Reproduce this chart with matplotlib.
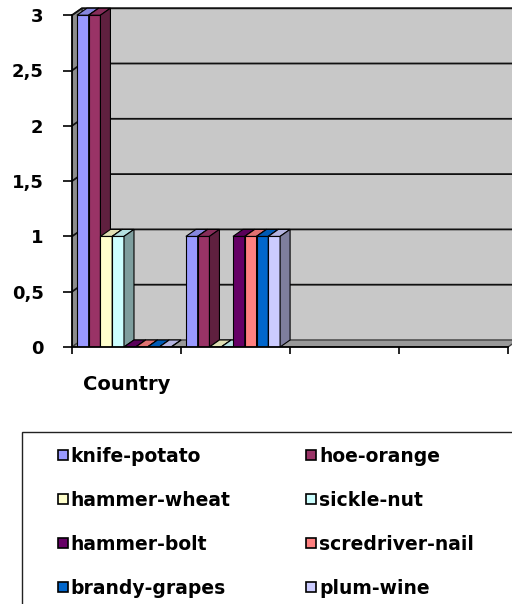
import numpy as np
import matplotlib
matplotlib.use("Agg")
from matplotlib import pyplot as plt
from matplotlib import transforms as mtransforms
from matplotlib.patches import Polygon, Rectangle
from matplotlib.colors import to_rgb

categories = ["Country", "", "", ""]
series_names = ["knife-potato", "hoe-orange", "hammer-wheat", "sickle-nut",
                "hammer-bolt", "scredriver-nail", "brandy-grapes", "plum-wine"]
knife_potato = [3, 1, np.nan, np.nan]
hoe_orange = [3, 1, np.nan, np.nan]
hammer_wheat = [1, 0, np.nan, np.nan]
sickle_nut = [1, 0, np.nan, np.nan]
hammer_bolt = [0, 1, np.nan, np.nan]
scredriver_nail = [0, 1, np.nan, np.nan]
brandy_grapes = [0, 1, np.nan, np.nan]
plum_wine = [0, 1, np.nan, np.nan]
series_values = [knife_potato, hoe_orange, hammer_wheat, sickle_nut,
                 hammer_bolt, scredriver_nail, brandy_grapes, plum_wine]
series_colors = ["#9999ff", "#993366", "#ffffcc", "#ccffff",
                 "#660066", "#ff8080", "#0066cc", "#ccccff"]
y_ticks = [0, 0.5, 1, 1.5, 2, 2.5, 3]
y_tick_labels = ["0", "0,5", "1", "1,5", "2", "2,5", "3"]

plt.rcParams["font.family"] = "DejaVu Sans"
plt.rcParams["font.weight"] = "bold"


def shade(color, f):
    return tuple(c * f for c in to_rgb(color))


W, H = 512, 604
fig = plt.figure(figsize=(W / 100, H / 100), dpi=100)
# pixel coordinates, origin top-left
px = mtransforms.Affine2D().scale(1 / W, -1 / H).translate(0, 1) + fig.transFigure

cat_px, unit_px = 109, 110.6
ax = fig.add_axes([72 / W, 1 - 347 / H, 440 / W, 347 / H])
ax.set_xlim(0, 440 / cat_px)
ax.set_ylim(0, 347 / unit_px)
ax.patch.set_visible(False)

n_cat = len(categories)
ymax = y_ticks[-1]
dx, dy = 10 / cat_px, 7 / unit_px

# back wall, side wall and floor of the 3d box
ax.add_patch(Polygon([(dx, dy), (n_cat + dx, dy), (n_cat + dx, ymax + dy), (dx, ymax + dy)],
                     closed=True, fc="#c8c8c8", ec="#555555", lw=1, zorder=0.5))
ax.add_patch(Polygon([(0, 0), (dx, dy), (dx, ymax + dy), (0, ymax)],
                     closed=True, fc="#8c8c8c", ec="#333333", lw=1, zorder=0.6))
ax.add_patch(Polygon([(0, 0), (n_cat, 0), (n_cat + dx, dy), (dx, dy)],
                     closed=True, fc="#999999", ec="#444444", lw=1, zorder=0.6))
for v in y_ticks[1:]:
    ax.plot([0, dx, n_cat + dx], [v, v + dy, v + dy], color="#111111", lw=1.3, zorder=0.7)

bar_w = 0.108
start = 0.045
x = np.arange(n_cat)
for s, (name, vals, color) in enumerate(zip(series_names, series_values, series_colors)):
    z = 2 + 0.05 * s
    bars = ax.bar(x + start + s * bar_w, vals, width=bar_w, align="edge",
                  color=color, edgecolor="black", lw=0.8, zorder=z, label=name)
    for rect, v in zip(bars, vals):
        if np.isnan(v):
            continue
        x0 = rect.get_x()
        x1 = x0 + rect.get_width()
        h = rect.get_height()
        ax.add_patch(Polygon([(x0, h), (x1, h), (x1 + dx, h + dy), (x0 + dx, h + dy)],
                             closed=True, fc=shade(color, 0.88), ec="black", lw=0.8, zorder=z))
        ax.add_patch(Polygon([(x1, 0), (x1 + dx, dy), (x1 + dx, h + dy), (x1, h)],
                             closed=True, fc=shade(color, 0.62), ec="black", lw=0.8, zorder=z))

for side in ("top", "right"):
    ax.spines[side].set_visible(False)
ax.spines["left"].set_bounds(0, ymax)
ax.spines["bottom"].set_bounds(0, n_cat)
for side in ("left", "bottom"):
    ax.spines[side].set_linewidth(1.3)
    ax.spines[side].set_zorder(3)

ax.set_yticks(y_ticks, labels=y_tick_labels)
ax.tick_params(axis="y", direction="out", length=6.5, width=1.2, pad=14, labelsize=13)
ax.set_xticks(np.arange(n_cat + 1), labels=[""] * (n_cat + 1))
ax.set_xticks(x + 0.5, labels=categories, minor=True)
ax.tick_params(axis="x", which="major", direction="out", length=5, width=1.2)
ax.tick_params(axis="x", which="minor", length=0, pad=20, labelsize=14)

# legend box
fig.add_artist(Rectangle((22, 432), 600, 300, transform=px, fc="white", ec="#222222", lw=1))
for i, (name, color) in enumerate(zip(series_names, series_colors)):
    row, col = divmod(i, 2)
    mx = 58 + col * 248
    my = 450 + row * 44
    fig.add_artist(Rectangle((mx, my), 10, 10, transform=px, fc=color, ec="black", lw=1.2))
    fig.text(70 + col * 249, 461.7 + row * 44, name, transform=px,
             fontsize=13.5, fontweight="bold", va="baseline", ha="left")

fig.savefig("out.png", dpi=100)
